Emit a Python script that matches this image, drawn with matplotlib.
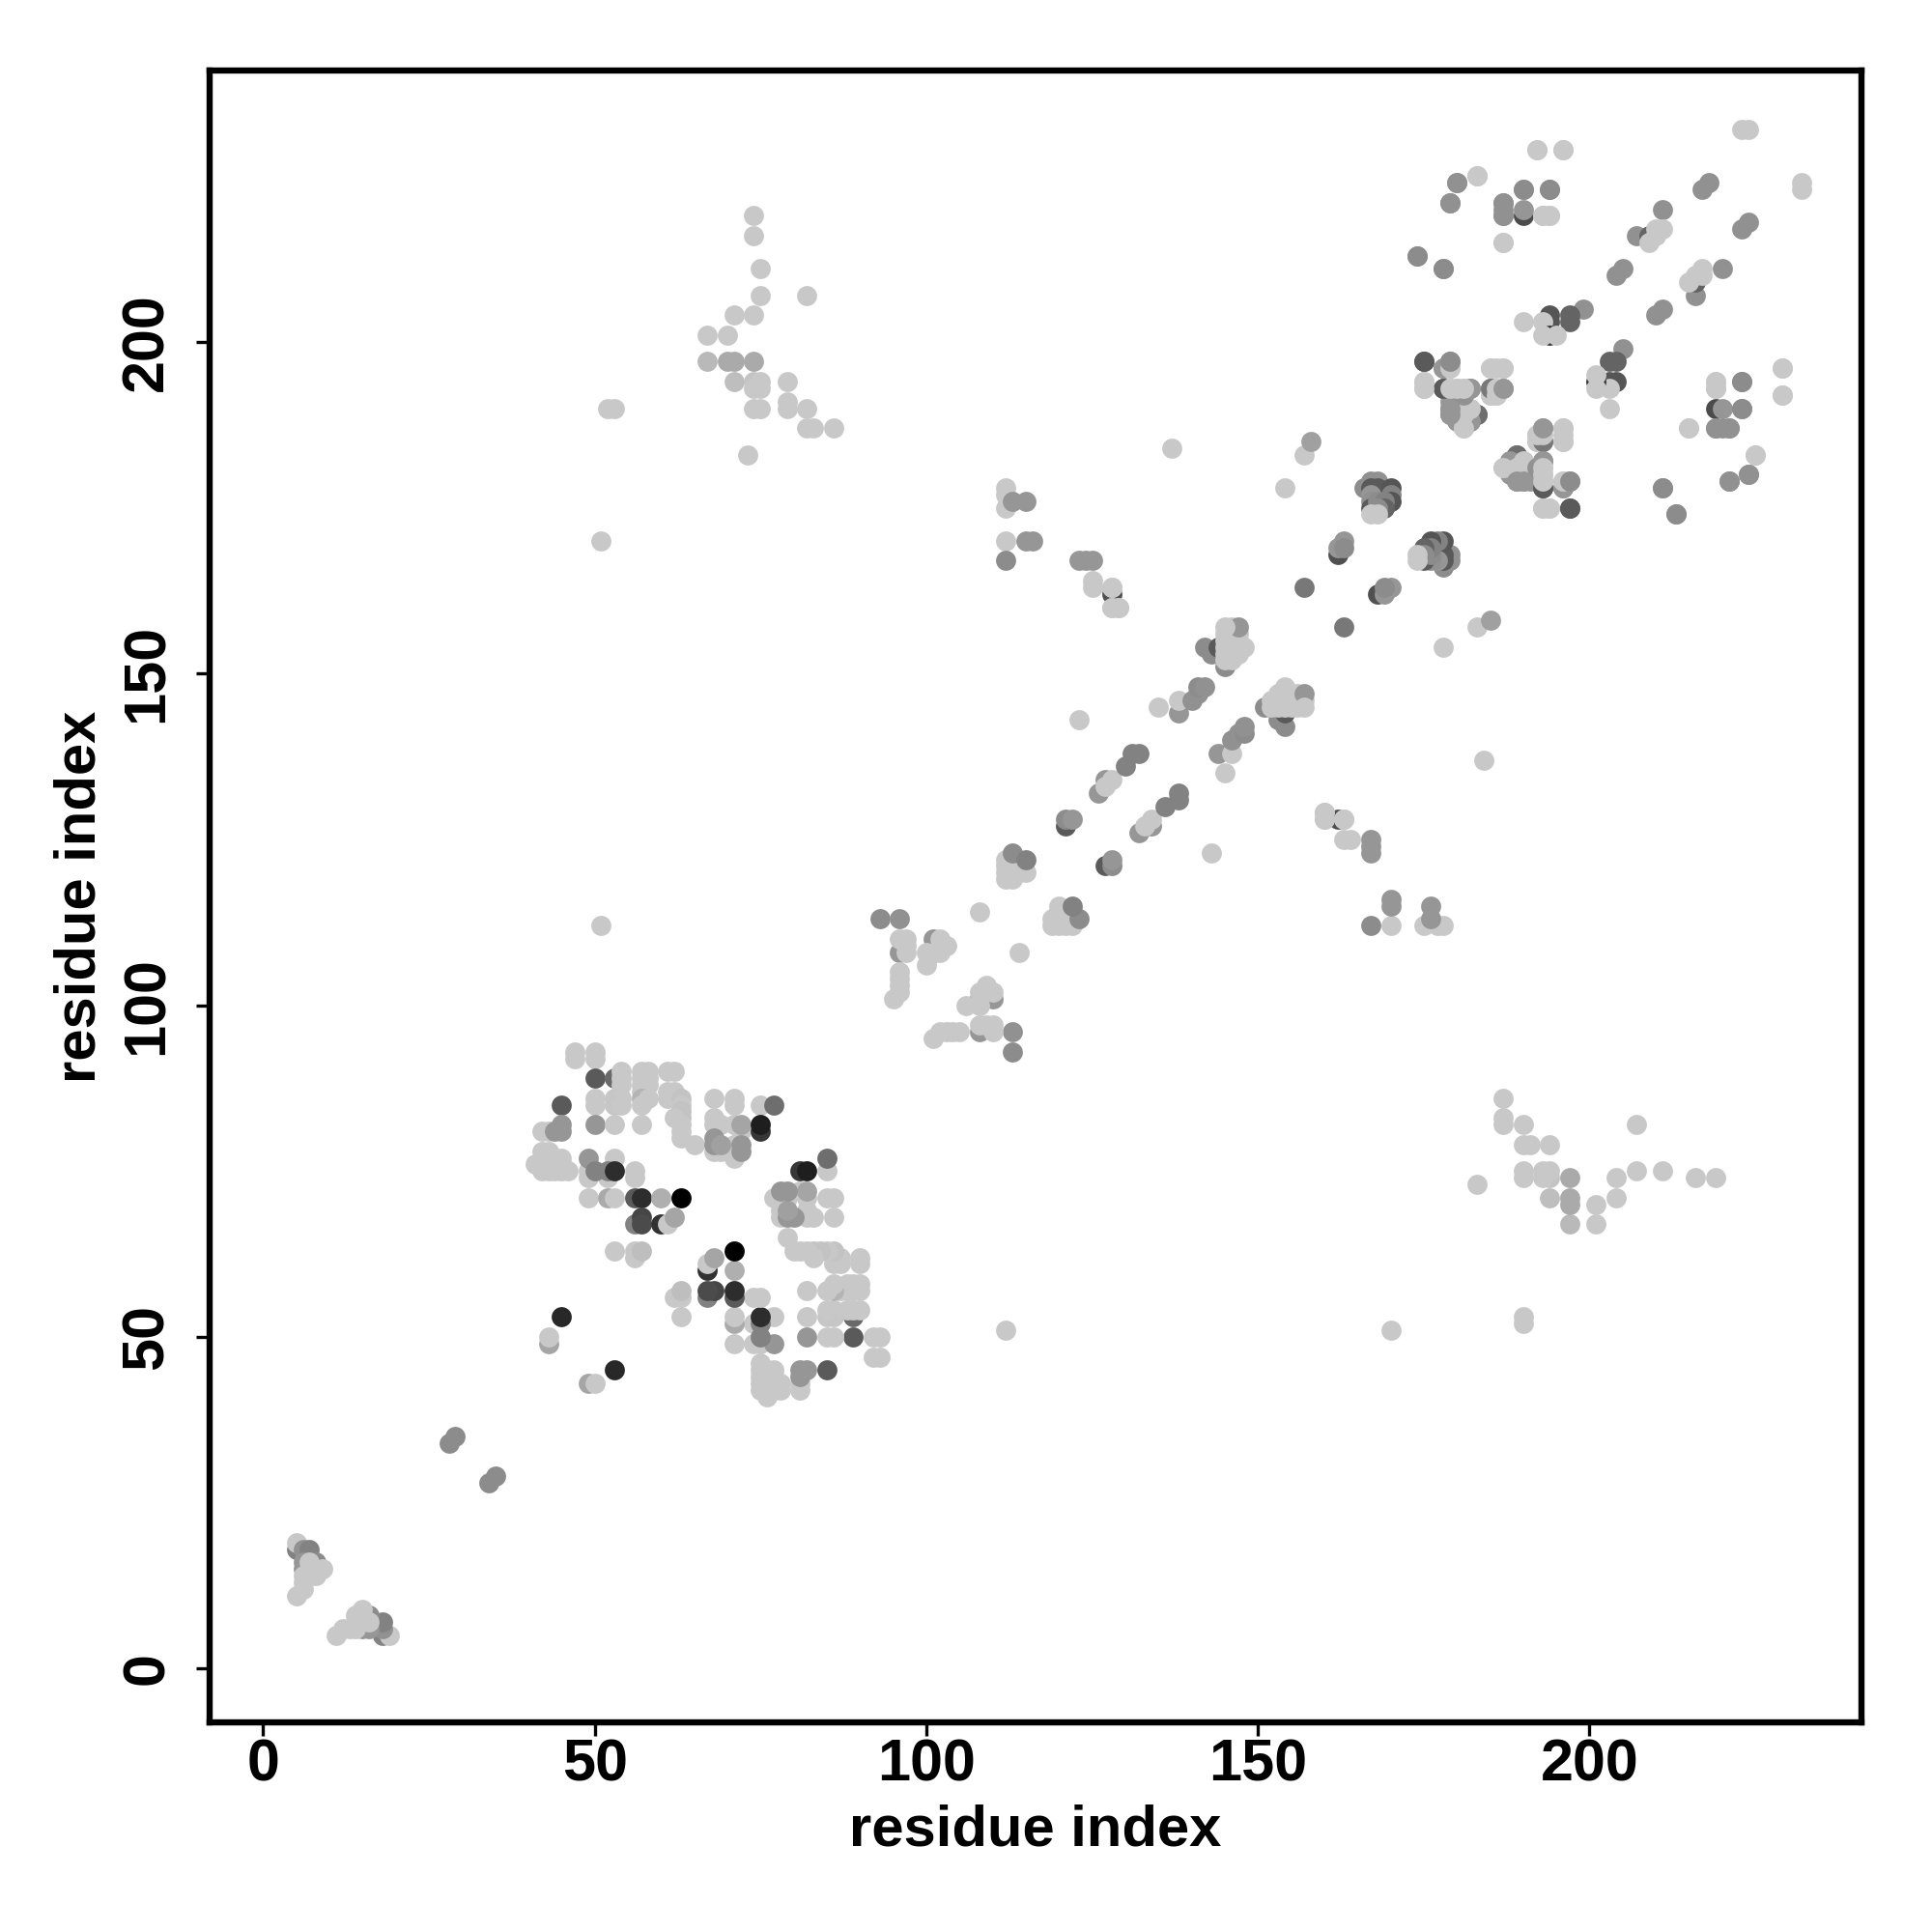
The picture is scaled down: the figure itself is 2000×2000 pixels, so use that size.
import matplotlib
matplotlib.use('Agg')
import matplotlib.pyplot as plt

plt.rcParams['font.family'] = ['Liberation Sans', 'DejaVu Sans']
plt.rcParams['font.weight'] = 'bold'

# contacts above the diagonal as (residue i, residue j, grey level); the map is symmetric
contacts_n_term = [
    (5, 18, 130), (5, 19, 200), (6, 18, 145), (7, 18, 130), (6, 16, 150), (6, 15, 150), (8, 16, 140), (8, 15, 150),
    (7, 16, 200), (6, 14, 200), (7, 14, 200), (6, 13, 200), (6, 12, 200),
    (5, 11, 200), (9, 15, 200), (8, 14, 200), (28, 34, 140), (29, 35, 140),
]
contacts_block_a = [
    (47, 93, 200), (47, 92, 200), (50, 93, 200), (50, 92, 200), (50, 89, 90), (53, 89, 105), (54, 90, 200),
    (54, 89, 200), (54, 88, 200), (57, 90, 200), (58, 90, 200), (57, 89, 200), (58, 89, 200), (57, 88, 200),
    (58, 88, 200), (61, 90, 200), (62, 90, 200), (50, 86, 200), (50, 85, 200), (53, 86, 198), (54, 86, 200),
    (53, 85, 198), (54, 85, 200), (57, 87, 200), (57, 86, 180), (57, 85, 200), (58, 86, 200), (61, 87, 200),
    (62, 87, 200), (61, 86, 200), (62, 86, 200), (63, 86, 195), (63, 85, 200), (63, 84, 195), (63, 83, 195),
    (62, 83, 200), (63, 82, 200), (63, 81, 200), (63, 80, 200), (65, 79, 200), (68, 86, 200), (71, 86, 200),
    (71, 85, 200), (75, 85, 200), (77, 85, 110), (45, 85, 90),
]
contacts_block_b = [
    (42, 81, 200), (43, 81, 200), (45, 81, 150), (44, 81, 150), (45, 82, 150), (50, 82, 150), (53, 82, 200),
    (57, 82, 200), (68, 83, 200), (68, 82, 200), (69, 82, 200), (71, 82, 200), (72, 81, 200), (72, 82, 165),
    (75, 81, 55), (75, 82, 30), (68, 78, 200), (69, 78, 200), (71, 77, 200), (71, 79, 200), (68, 80, 150),
    (68, 79, 150), (69, 79, 160), (72, 78, 150), (72, 79, 150),
    (42, 78, 200), (43, 78, 200), (42, 77, 200), (43, 77, 200), (44, 77, 200), (45, 77, 200), (41, 76, 200),
    (42, 76, 200), (43, 76, 200), (44, 76, 200), (45, 76, 200), (42, 75, 200), (43, 75, 200), (44, 75, 200),
    (45, 75, 200), (46, 75, 200),
]
contacts_block_c = [
    (49, 74, 200), (52, 74, 200), (49, 75, 200), (53, 77, 200), (49, 77, 150), (50, 75, 130), (52, 75, 130),
    (53, 75, 45), (56, 75, 200), (56, 74, 200), (49, 71, 200), (52, 71, 170), (53, 71, 200), (56, 71, 90),
    (57, 71, 45), (60, 71, 175), (63, 71, 0), (56, 67, 130), (57, 68, 70), (57, 67, 75), (60, 67, 50),
    (61, 67, 200), (62, 68, 165), (53, 63, 200), (56, 62, 200), (56, 63, 200), (57, 63, 190),
    (45, 53, 40), (43, 49, 165), (43, 50, 200),
]
contacts_mid_a = [
    (93, 113, 140), (96, 113, 145), (96, 108, 150), (96, 110, 200), (97, 110, 200), (97, 109, 200), (97, 108, 200),
    (96, 105, 200), (96, 104, 200), (96, 103, 200), (96, 102, 200), (95, 101, 200), (101, 110, 150), (101, 108, 80),
    (102, 110, 200), (103, 109, 200), (102, 109, 200), (102, 108, 200), (100, 108, 200), (100, 106, 200), (108, 114, 200),
    (112, 122, 200), (113, 122, 200), (114, 122, 200), (112, 121, 200), (113, 121, 200), (114, 121, 200), (112, 120, 200),
    (113, 120, 200), (114, 120, 200), (115, 120, 200), (112, 119, 200), (113, 119, 200), (113, 123, 140), (115, 122, 130),
    (121, 127, 90), (121, 128, 140), (122, 128, 150), (126, 132, 150), (127, 134, 150), (127, 133, 200), (128, 134, 200),
    (130, 136, 130), (131, 138, 130), (132, 138, 130), (135, 145, 200), (138, 144, 150), (138, 146, 200),
    (140, 146, 145), (141, 147, 145), (141, 148, 140), (142, 148, 145), (123, 143, 200),
]
contacts_mid_b = [
    (142, 154, 140), (143, 153, 140), (145, 151, 140), (144, 154, 90), (145, 156, 200), (146, 157, 200), (145, 155, 200),
    (146, 156, 200), (147, 156, 200), (145, 154, 200), (146, 155, 200), (147, 155, 200), (146, 154, 200), (147, 154, 200),
    (148, 154, 200), (145, 153, 200), (146, 153, 200), (147, 153, 200), (145, 152, 200), (146, 152, 200), (147, 157, 150),
    (145, 157, 200),
    (157, 163, 120), (154, 178, 200), (137, 184, 200), (157, 183, 200), (158, 185, 160),
    (51, 112, 200), (51, 170, 200), (112, 175, 200), (112, 177, 200), (112, 178, 200), (113, 176, 150),
    (115, 176, 150), (112, 170, 200), (115, 170, 150), (116, 170, 150), (112, 167, 140), (123, 167, 150), (124, 167, 150),
    (125, 167, 150), (125, 164, 200), (125, 163, 200), (128, 162, 80), (128, 163, 200), (128, 160, 200), (129, 160, 200),
    (162, 168, 80), (162, 169, 150), (163, 170, 150), (163, 169, 140),
]
contacts_c_far = [
    (52, 190, 200), (53, 190, 200), (74, 219, 200), (74, 216, 200), (75, 211, 200), (75, 207, 200), (82, 207, 200),
    (74, 204, 200), (71, 204, 200), (67, 201, 200), (70, 201, 200), (67, 197, 185), (70, 197, 170), (71, 197, 170),
    (74, 197, 170), (71, 194, 190), (74, 194, 195), (75, 194, 200), (74, 193, 200), (75, 193, 200), (74, 190, 200),
    (75, 190, 200), (79, 194, 200), (79, 191, 200), (79, 190, 200), (82, 190, 200), (82, 187, 200), (83, 187, 200),
    (86, 187, 200), (73, 183, 200),
]
contacts_c_a = [
    (166, 178, 140), (167, 179, 145), (168, 179, 145), (167, 178, 90), (168, 178, 90), (170, 178, 85), (170, 177, 130),
    (167, 177, 150), (167, 176, 145), (167, 175, 90), (168, 176, 140), (170, 176, 85), (169, 176, 130), (169, 175, 100),
    (168, 175, 140), (167, 174, 200), (168, 174, 200), (128, 160, 200), (129, 160, 200), (128, 163, 200),
    (174, 213, 140), (178, 211, 145), (179, 221, 145), (180, 224, 145), (183, 225, 200), (192, 229, 200), (196, 229, 200),
    (190, 223, 150), (194, 223, 140), (187, 221, 145), (187, 219, 145), (190, 219, 75), (190, 220, 150), (193, 219, 200),
    (194, 219, 200), (187, 215, 200), (218, 224, 145), (217, 223, 145), (223, 232, 200), (224, 232, 200),
]
contacts_c_b = [
    (207, 216, 145), (209, 216, 100), (211, 220, 145), (209, 215, 200), (210, 216, 200), (210, 217, 200), (211, 217, 200),
    (204, 210, 145), (205, 211, 145), (199, 205, 145), (197, 204, 100), (197, 203, 100), (194, 204, 85), (194, 203, 85),
    (193, 203, 200), (190, 203, 200), (194, 201, 50), (193, 201, 200), (195, 201, 200), (175, 197, 90), (178, 196, 150),
    (179, 197, 150), (179, 196, 200), (185, 196, 200), (186, 196, 200), (187, 196, 200), (175, 194, 200), (175, 193, 200),
    (178, 193, 90), (179, 193, 200), (180, 193, 200), (181, 193, 200), (182, 193, 145), (185, 193, 140), (187, 193, 150),
    (185, 192, 200), (186, 192, 200), (179, 192, 150), (179, 191, 150), (179, 190, 150), (179, 189, 150), (180, 188, 150),
    (181, 188, 200), (182, 188, 150), (183, 189, 100), (181, 187, 200), (181, 189, 200), (181, 190, 200), (182, 190, 200),
]
contacts_c_c = [
    (185, 192, 200), (185, 193, 120), (186, 193, 200), (186, 192, 200), (187, 193, 150),
    (185, 196, 200), (187, 196, 200), (183, 189, 110), (182, 188, 150), (182, 190, 200), (181, 187, 200), (181, 189, 200),
    (181, 190, 200), (179, 189, 150), (179, 190, 150), (181, 192, 145), (182, 193, 150), (178, 193, 90), (181, 193, 200),
    (180, 193, 200), (179, 193, 200), (178, 196, 150), (179, 196, 200), (179, 197, 140), (175, 197, 90), (175, 193, 200),
    (175, 194, 200), (193, 219, 200), (194, 219, 200), (194, 223, 140), (190, 223, 140), (187, 219, 145), (187, 220, 145),
    (187, 221, 145), (187, 215, 200), (196, 229, 200), (192, 229, 200), (183, 225, 200), (180, 224, 145), (179, 221, 145),
    (178, 211, 140), (174, 213, 140),
]

contact_groups = [contacts_n_term, contacts_block_a, contacts_block_b, contacts_block_c, contacts_mid_a,
                  contacts_mid_b, contacts_c_far, contacts_c_a, contacts_c_b, contacts_c_c]

axis_ticks = [0, 50, 100, 150, 200]

fig = plt.figure(figsize=(10, 10), dpi=200)
ax = fig.add_axes([216.5 / 2000, 1 - 1783 / 2000, (1927 - 216.5) / 2000, (1783 - 73) / 2000])

for group in contact_groups:
    for i, j, grey in group:
        colour = str(grey / 255)
        ax.scatter([i, j], [j, i], s=56, c=colour, linewidths=0, zorder=3)

ax.set_xlim(-8.13, 241)
ax.set_ylim(-8.11, 240.9)
ax.set_xticks(axis_ticks)
ax.set_yticks(axis_ticks)
ax.tick_params(axis='both', length=5, width=1.2, labelsize=22)
ax.tick_params(axis='x', pad=1)
ax.tick_params(axis='y', pad=7.5)
for label in ax.get_yticklabels():
    label.set_rotation(90)
    label.set_va('center')
for spine in ax.spines.values():
    spine.set_linewidth(2.3)

ax.set_xlabel('residue index', fontsize=21.5, fontweight='bold', labelpad=4)
ax.set_ylabel('residue index', fontsize=21.5, fontweight='bold', labelpad=5.3)

fig.savefig('out.png', dpi=200, facecolor='white')
